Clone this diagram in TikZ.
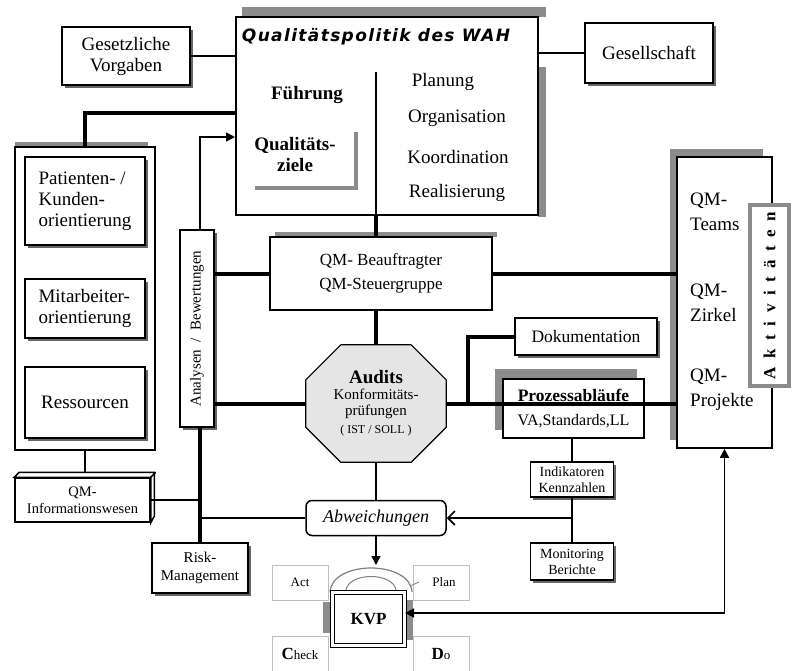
\documentclass[tikz,border=0pt]{standalone}
\usepackage{fontspec}
\setmainfont{Liberation Serif}
\newfontfamily\titelfont[LetterSpace=8]{DejaVu Sans}
\usetikzlibrary{arrows.meta,positioning,shadows}
\tikzset{
	%Define standard arrow tip
	>={Triangle[length=9pt,width=9pt]},
	%Define style for boxes
	kasten/.style={
		rectangle,
		draw=black, line width=1.5pt,
		fill=white,
		align=center,
		inner sep=2pt,
		font=\fontsize{19}{21}\selectfont},
	schatten/.style={drop shadow={shadow xshift=2.5pt,shadow yshift=-2.5pt,fill=black!60,opacity=1}},
	% grey bands behind the boxes
	band/.style={fill=black!45,draw=none},
	txt/.style={align=center,inner sep=0pt,font=\fontsize{19}{21}\selectfont},
	fett/.style={align=center,inner sep=0pt,font=\bfseries\fontsize{19}{21}\selectfont},
	pdca/.style={
		rectangle,
		draw=black!25, line width=1pt,
		minimum width=56pt, minimum height=35pt,
		font=\fontsize{13}{15}\selectfont},
	% Define line styles
	balken/.style={line width=4pt},
	linie/.style={line width=1.6pt}
}
\begin{document}
\begin{tikzpicture}[x=1pt,y=-1pt,node distance=1cm, auto,]
	\useasboundingbox (0,0) rectangle (793,670);
	
	% Qualitaetspolitik
	\fill[band] (242,7) rectangle (546,17);
	\fill[band] (538,67) rectangle (546,217);
	\node[kasten,line width=2pt,minimum width=302pt,minimum height=198pt] (politik) at (387,116) {};
	\node[below = 9pt of politik.north,xshift=-11pt,font=\titelfont\bfseries\itshape\fontsize{17}{20}\selectfont] (titel) {Qualitätspolitik des WAH};
	\coordinate (teiler) at (376,72);
	\draw[line width=1.2pt] (teiler) -- (teiler |- politik.south);
	
	\node[fett] (fuehrung) at (307,95) {Führung};
	\draw[black!45,line width=4pt] (356,132) -- (356,188) -- (255,188);
	\node[fett] (ziele) at (295,154) {Qualitäts-\\ziele};
	
	\node[txt] (planung) at (443,82) {Planung};
	\node[txt] (orga) at (457,118) {Organisation};
	\node[txt] (koord) at (458,157) {Koordination};
	\node[txt] (real) at (457,193) {Realisierung};
	
	\node[kasten,schatten,minimum width=128pt,minimum height=58pt] (gesetz) at (126,56) {Gesetzliche\\Vorgaben};
	\node[kasten,schatten,minimum width=128pt,minimum height=60pt] (gesell) at (649,53) {Gesellschaft};
	
	% linke Saeule
	\fill[band] (15,142) rectangle (148,147);
	\node[kasten,line width=2pt,minimum width=140pt,minimum height=303pt] (patcont) at (85,298.5) {};
	\node[kasten,schatten,align=left,minimum width=120pt,minimum height=88pt] (patient) at (85,201) {Patienten- /\\Kunden-\\orientierung};
	\node[kasten,schatten,align=left,minimum width=120pt,minimum height=59pt] (mitarb) at (85,308.5) {Mitarbeiter-\\orientierung};
	\node[kasten,schatten,minimum width=120pt,minimum height=71pt] (ressourcen) at (85,402.5) {Ressourcen};
	
	\node[kasten,schatten,minimum width=34pt,minimum height=197pt] (analysen) at (197,328.5) {};
	\node[rotate=90,inner sep=0pt,font=\fontsize{15}{17}\selectfont] (analysentext) at (analysen) {Analysen~~/~~Bewertungen};
	
	% QM-Beauftragter
	\fill[band] (275,232) rectangle (497,237);
	\node[kasten,line width=1.6pt,minimum width=222pt,minimum height=73pt,font=\fontsize{17}{24}\selectfont] (qmb) at (381,273.5) {QM- Beauftragter\\QM-Steuergruppe};
	
	% Audits (Achteck)
	\node[minimum width=140pt,minimum height=117pt,inner sep=0pt] (audits) at (376,403.5) {};
	\draw[line width=1.2pt,fill=black!10] ([xshift=35pt]audits.north west) -- ([xshift=-35pt]audits.north east) -- ([yshift=-35pt]audits.north east) -- ([yshift=35pt]audits.south east) -- ([xshift=-35pt]audits.south east) -- ([xshift=35pt]audits.south west) -- ([yshift=35pt]audits.south west) -- ([yshift=-35pt]audits.north west) -- cycle;
	\node[align=center,inner sep=0pt,font=\fontsize{15}{16}\selectfont] (auditstext) at (audits) {{\bfseries\fontsize{19}{19}\selectfont Audits}\\Konformitäts-\\prüfungen\\[2pt]{\fontsize{12}{14}\selectfont( IST / SOLL )}};
	
	\node[kasten,schatten,minimum width=142pt,minimum height=37pt,font=\fontsize{17.5}{20}\selectfont] (doku) at (586,336.5) {Dokumentation};
	\fill[band] (495,369) rectangle (637,430);
	\node[kasten,line width=2pt,minimum width=141pt,minimum height=59pt,font=\fontsize{16}{24}\selectfont] (prozess) at (573.5,408.5) {{\bfseries\fontsize{17.5}{20}\selectfont Prozessabläufe}\\VA,Standards,LL};
	
	% rechte Saeule
	\fill[band] (670,149) rectangle (763,157);
	\fill[band] (670,149) rectangle (677,440);
	\node[kasten,line width=1.6pt,minimum width=95pt,minimum height=291pt] (qmcont) at (724.5,302.5) {};
	\node[txt,anchor=west,align=left,font=\fontsize{19}{25}\selectfont] (teams) at (690,212) {QM-\\Teams};
	\node[txt,anchor=west,align=left,font=\fontsize{19}{25}\selectfont] (zirkel) at (690,303) {QM-\\Zirkel};
	\node[txt,anchor=west,align=left,font=\fontsize{19}{25}\selectfont] (projekte) at (690,390) {QM-\\Projekte};
	\node[draw=black!45,line width=4pt,fill=white,minimum width=39pt,minimum height=181pt] (aktiv) at (769.5,295.5) {};
	\node[rotate=90,inner sep=0pt,font=\bfseries\fontsize{17}{17}\selectfont] (aktivtext) at (aktiv) {\spaceskip=8.5pt A k t i v i t ä t e n};
	
	% unten
	\node[kasten,line width=1.5pt,minimum width=135pt,minimum height=44pt,font=\fontsize{14.5}{17}\selectfont] (info) at (82.5,500) {QM-\\Informationswesen};
	\draw[line width=1.5pt,fill=white] (info.north west) -- ++(5pt,5pt) -- ++(135pt,0pt) -- ++(0pt,-44pt) -- (info.south east) -- (info.north east) -- cycle;
	\draw[line width=1.5pt] (info.north east) -- ++(5pt,5pt);
	\coordinate (infotop) at ([yshift=5pt]info.north -| patcont.south);
	
	\node[kasten,schatten,minimum width=96pt,minimum height=50pt,font=\fontsize{15}{18}\selectfont] (risk) at (200,568) {Risk-\\Management};
	\node[kasten,rounded corners=6pt,line width=1.5pt,minimum width=140pt,minimum height=35pt,font=\itshape\fontsize{18}{20}\selectfont] (abw) at (376,518) {Abweichungen};
	
	\node[kasten,schatten,minimum width=83pt,minimum height=35pt,font=\fontsize{14}{16}\selectfont] (indik) at (572,479.5) {Indikatoren\\Kennzahlen};
	\node[kasten,schatten,minimum width=83pt,minimum height=37pt,font=\fontsize{14}{16}\selectfont] (monitor) at (572,561.5) {Monitoring\\Berichte};
	
	% KVP
	\node[pdca] (act) at (300,582.5) {Act};
	\node[pdca,right = 84pt of act] (plan) {\hspace{6pt}Plan};
	\node[pdca,below = 35pt of act] (check) {{\bfseries\fontsize{17}{17}\selectfont C}heck};
	\node[pdca,below = 35pt of plan] (do) {{\bfseries\fontsize{17}{17}\selectfont D}o};
	\fill[band] (323,602) rectangle (330,633);
	\fill[band] (407,600) rectangle (413,640);
	\draw[black!50,line width=1.2pt,fill=white] (330,592) .. controls (332,560) and (410,560) .. (412,592);
	\draw[black!50,line width=1pt] (346,590) .. controls (349,572) and (393,572) .. (396,590);
	\draw[black!50,line width=0.8pt] (410,586) -- (419,582);
	\node[draw,line width=1.2pt,double,double distance=2.5pt,fill=white,minimum width=72pt,minimum height=53pt,font=\bfseries\fontsize{17}{20}\selectfont] (kvp) at (368.5,619) {KVP};
	\coordinate (bogen) at (376,565);
	
	% Verbindungen
	\draw[linie] (gesetz.east) -- (gesetz.east -| politik.west);
	\draw[linie] (gesell.west) -- (gesell.west -| politik.east);
	\draw[balken] (teiler |- politik.south) -- (teiler |- qmb.north);
	\draw[balken] (patcont.north) |- ([yshift=3pt]politik.west);
	\draw[linie,->] (analysen.north -| risk.north) |- ([yshift=-21pt]politik.west);
	\draw[balken] (analysen.south -| risk.north) -- (risk.north);
	\draw[balken] (analysen.east |- qmb.west) -- (qmb.west);
	\draw[balken] (qmb.east) -- (qmb.east -| qmcont.west);
	\draw[balken] (teiler |- qmb.south) -- (teiler |- audits.north);
	\draw[balken] (analysen.east |- audits.west) -- (audits.west);
	\draw[balken] (audits.east) -- (audits.east -| qmcont.west);
	\coordinate (abzweig) at (468,403.5);
	\draw[balken] (abzweig) |- (doku.west);
	\draw[linie] (patcont.south) -- (infotop);
	\draw[linie] (info.east) -- (info.east -| risk.north);
	\draw[linie] (audits.south) -- (abw.north);
	\draw[linie] (abw.west -| risk.north) -- (abw.west);
	\draw[linie] (prozess.south -| indik.north) -- (indik.north);
	\draw[linie] (indik.south) -- (monitor.north);
	\draw[linie,-{Straight Barb[length=7pt,width=14pt]}] (indik.south |- abw.east) -- (abw.east);
	\draw[linie,->] (abw.south) -- (bogen);
	\draw[linie,<->] ([yshift=6pt]kvp.east) -| (qmcont.south);
	
\end{tikzpicture}
\end{document}
